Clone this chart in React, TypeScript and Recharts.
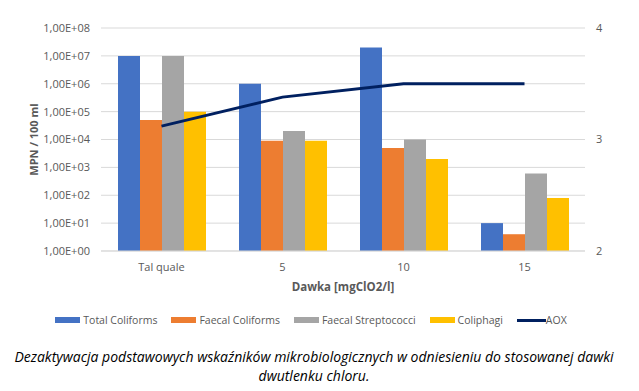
import { ComposedChart, Bar, Line, XAxis, YAxis, CartesianGrid } from "recharts";

const categories = ["Tal quale", "5", "10", "15"];
const totalColiforms = [1e7, 1e6, 2e7, 10];
const faecalColiforms = [5e4, 9e3, 5e3, 4];
const faecalStreptococci = [1e7, 2e4, 1e4, 600];
const coliphagi = [1e5, 9e3, 2e3, 80];
const aox = [3.12, 3.38, 3.5, 3.5];
const leftTicks = [1, 10, 100, 1e3, 1e4, 1e5, 1e6, 1e7, 1e8];
const rightTicks = [2, 3, 4];

const data = categories.map((name, i) => ({
  name,
  tc: totalColiforms[i],
  fc: faecalColiforms[i],
  fs: faecalStreptococci[i],
  col: coliphagi[i],
  aox: aox[i],
}));

const bars = [
  { key: "tc", label: "Total Coliforms", color: "#4472C4" },
  { key: "fc", label: "Faecal Coliforms", color: "#ED7D31" },
  { key: "fs", label: "Faecal Streptococci", color: "#A5A5A5" },
  { key: "col", label: "Coliphagi", color: "#FFC000" },
];
const lineColor = "#002060";

const font = "'Open Sans', sans-serif";
const tickStyle = { fontSize: 11, fill: "#595959", fontFamily: font };

const sci = (v: number) =>
  `1,00E+${String(Math.round(Math.log10(v))).padStart(2, "0")}`;

export default function App() {
  return (
    <div
      style={{
        position: "absolute",
        left: 0,
        top: 0,
        width: 639,
        height: 391,
        background: "#fff",
        fontFamily: font,
      }}
    >
      <ComposedChart
        width={639}
        height={300}
        data={data}
        margin={{ top: 28, right: 0, left: 0, bottom: 0 }}
        barGap={0}
      >
        <CartesianGrid yAxisId="left" vertical={false} stroke="#d9d9d9" />
        <XAxis
          dataKey="name"
          height={49}
          axisLine={{ stroke: "#d9d9d9" }}
          tickLine={false}
          tickSize={0}
          tickMargin={12}
          tick={tickStyle}
          label={{
            value: "Dawka [mgClO2/l]",
            position: "insideBottom",
            offset: 9,
            style: { fontSize: 11.5, fontWeight: 700, fill: "#595959", fontFamily: font },
          }}
        />
        <YAxis
          yAxisId="left"
          scale="log"
          domain={[1, 1e8]}
          ticks={leftTicks}
          allowDataOverflow
          width={101}
          axisLine={false}
          tickLine={false}
          tickSize={0}
          tickMargin={11}
          tick={tickStyle}
          tickFormatter={sci}
          label={{
            value: "MPN / 100 ml",
            angle: -90,
            position: "insideLeft",
            offset: 34,
            style: { textAnchor: "middle", fontSize: 11, fontWeight: 700, fill: "#595959", fontFamily: font },
          }}
        />
        <YAxis
          yAxisId="right"
          orientation="right"
          domain={[2, 4]}
          ticks={rightTicks}
          width={54}
          axisLine={false}
          tickLine={false}
          tickSize={0}
          tickMargin={11}
          tick={tickStyle}
        />
        {bars.map((b) => (
          <Bar
            key={b.key}
            yAxisId="left"
            dataKey={b.key}
            fill={b.color}
            barSize={22}
            isAnimationActive={false}
          />
        ))}
        <Line
          yAxisId="right"
          dataKey="aox"
          type="linear"
          stroke={lineColor}
          strokeWidth={3}
          dot={false}
          isAnimationActive={false}
        />
      </ComposedChart>

      <div
        style={{
          position: "absolute",
          top: 313,
          left: 0,
          width: 622,
          display: "flex",
          justifyContent: "center",
          alignItems: "center",
          gap: 14,
          fontSize: 10.5,
          color: "#595959",
        }}
      >
        {bars.map((b) => (
          <div key={b.key} style={{ display: "flex", alignItems: "center" }}>
            <span style={{ width: 25, height: 6, background: b.color, marginRight: 3 }} />
            <span>{b.label}</span>
          </div>
        ))}
        <div style={{ display: "flex", alignItems: "center" }}>
          <span style={{ width: 29, height: 3, background: lineColor }} />
          <span>AOX</span>
        </div>
      </div>

      <div
        style={{
          position: "absolute",
          top: 347,
          left: 0,
          width: 628,
          textAlign: "center",
          fontStyle: "italic",
          fontSize: 14,
          lineHeight: "19px",
          color: "#000",
        }}
      >
        <div style={{ whiteSpace: "nowrap" }}>
          Dezaktywacja podstawowych wskaźników mikrobiologicznych w odniesieniu do stosowanej dawki
        </div>
        <div>dwutlenku chloru.</div>
      </div>
    </div>
  );
}
